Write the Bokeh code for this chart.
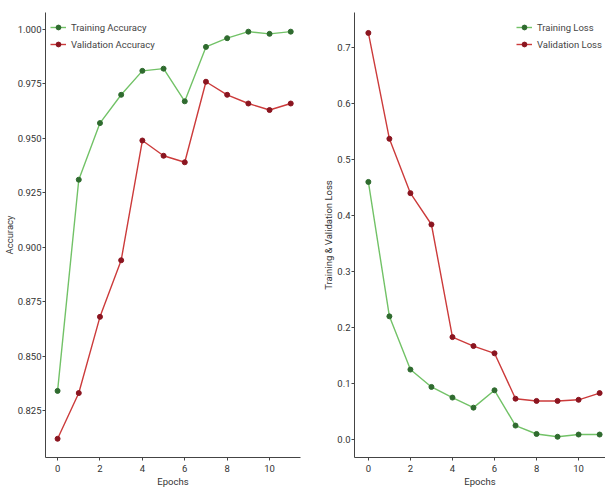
from bokeh.plotting import figure
from bokeh.layouts import row
from bokeh.models import FixedTicker, Range1d, Legend, LegendItem
from bokeh.embed import file_html
from bokeh.resources import INLINE

epochs = list(range(12))
train_acc = [0.834, 0.931, 0.957, 0.970, 0.981, 0.982, 0.967, 0.992, 0.996, 0.999, 0.998, 0.999]
val_acc = [0.812, 0.833, 0.868, 0.894, 0.949, 0.942, 0.939, 0.976, 0.970, 0.966, 0.963, 0.966]
train_loss = [0.460, 0.220, 0.125, 0.094, 0.075, 0.057, 0.088, 0.025, 0.010, 0.005, 0.009, 0.009]
val_loss = [0.726, 0.537, 0.440, 0.384, 0.183, 0.167, 0.154, 0.073, 0.069, 0.069, 0.071, 0.083]

acc_ticks = [0.825, 0.850, 0.875, 0.900, 0.925, 0.950, 0.975, 1.000]
loss_ticks = [0.0, 0.1, 0.2, 0.3, 0.4, 0.5, 0.6, 0.7]
x_ticks = [0, 2, 4, 6, 8, 10]

FONT = "Roboto"
G_LINE, G_MARK = "#72c267", "#2f6b2f"
R_LINE, R_MARK = "#cc3b3b", "#8b1520"
AX = "#444444"
H = 489


def style(p, ylabel, yticks, yfmt):
    p.xgrid.visible = False
    p.ygrid.visible = False
    p.outline_line_color = None
    p.xaxis.ticker = FixedTicker(ticks=x_ticks)
    p.yaxis.ticker = FixedTicker(ticks=yticks)
    p.yaxis.major_label_overrides = {t: yfmt.format(t) for t in yticks}
    p.xaxis.axis_label = "Epochs"
    p.yaxis.axis_label = ylabel
    for ax in (p.xaxis[0], p.yaxis[0]):
        ax.axis_line_color = AX
        ax.major_tick_line_color = AX
        ax.minor_tick_line_color = None
        ax.major_tick_out = 3
        ax.major_tick_in = 0
        ax.major_label_standoff = 1
        ax.axis_label_standoff = 0
        ax.major_label_text_font = FONT
        ax.major_label_text_font_size = "9.5px"
        ax.major_label_text_color = "#333333"
        ax.axis_label_text_font = FONT
        ax.axis_label_text_font_size = "9.5px"
        ax.axis_label_text_font_style = "normal"
        ax.axis_label_text_color = "#333333"
    p.xaxis[0].major_label_standoff = 4
    p.xaxis[0].axis_label_standoff = 1


def series(p, y, lc, mc, label):
    r1 = p.line(epochs, y, line_color=lc, line_width=1.4)
    r2 = p.scatter(epochs, y, size=5, fill_color=mc, line_color=mc)
    return LegendItem(label=label, renderers=[r1, r2])


def legend(items, loc):
    return Legend(items=items, location=loc, border_line_color=None,
                  background_fill_alpha=0, label_text_font=FONT,
                  label_text_font_size="9.5px", glyph_width=16, glyph_height=12,
                  spacing=5, padding=8, margin=0, label_standoff=5)


p1 = figure(width=320, height=H, output_backend="svg", toolbar_location=None,
            x_range=Range1d(-0.57, 11.46), y_range=Range1d(0.8034, 1.0078),
            min_border_left=45, min_border_right=20, min_border_top=12, min_border_bottom=32)
style(p1, "Accuracy", acc_ticks, "{:.3f}")
i1 = series(p1, train_acc, G_LINE, G_MARK, "Training Accuracy")
i2 = series(p1, val_acc, R_LINE, R_MARK, "Validation Accuracy")
p1.add_layout(legend([i1, i2], (5, 407)))

p2 = figure(width=285, height=H, output_backend="svg", toolbar_location=None,
            x_range=Range1d(-0.66, 11.28), y_range=Range1d(-0.032, 0.7625),
            min_border_left=33, min_border_right=0, min_border_top=12, min_border_bottom=32)
style(p2, "Training & Validation Loss", loss_ticks, "{:.1f}")
j1 = series(p2, train_loss, G_LINE, G_MARK, "Training Loss")
j2 = series(p2, val_loss, R_LINE, R_MARK, "Validation Loss")
p2.add_layout(legend([j1, j2], (162, 407)))

layout = row(p1, p2)
open("out.html", "w").write(file_html(layout, INLINE))
